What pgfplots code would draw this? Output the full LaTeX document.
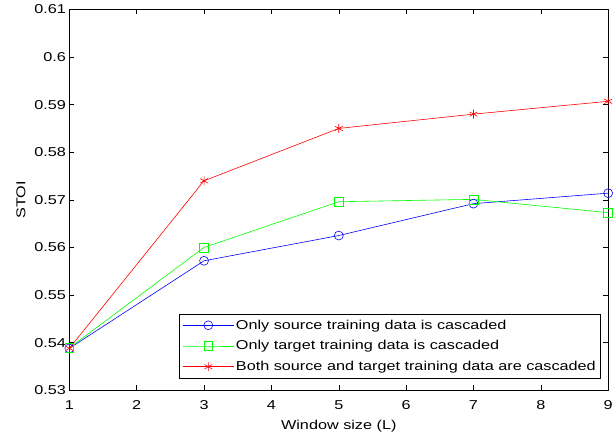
\documentclass[border=0pt]{standalone}
\usepackage{fontspec}
\setmainfont{Liberation Sans}
\usepackage{graphicx}
\usepackage{pgfplots}
\pgfplotsset{compat=1.18}
\newcommand\sx[1]{\scalebox{1.26}[1]{#1}}
\begin{document}
\begin{tikzpicture}
\begin{axis}[
  width=544pt, height=384.5pt, scale only axis,
  xmin=1, xmax=9, ymin=0.53, ymax=0.61,
  xtick={1,2,...,9},
  ytick={0.53,0.54,...,0.61},
  /pgf/number format/assume math mode=true,
  xticklabel={\sx{\pgfmathprintnumber{\tick}}},
  yticklabel={\sx{\pgfmathprintnumber[fixed,precision=2]{\tick}}},
  tick align=inside, tick pos=both,
  major tick length=5pt,
  tick style={black, line width=0.5pt},
  axis line style={black, line width=0.8pt},
  ticklabel style={font=\fontsize{13}{15}\selectfont},
  xticklabel style={yshift=-7pt},
  xlabel={\sx{Window size (L)}}, ylabel={\sx{STOI}},
  label style={font=\fontsize{13}{15}\selectfont},
  xlabel style={yshift=-4pt},
  ylabel style={yshift=2pt},
  legend style={at={(rel axis cs:0.987,0.031)}, anchor=south east,
    font=\fontsize{13}{15}\selectfont, draw=black, line width=0.8pt,
    cells={anchor=west}, row sep=6pt, inner xsep=3pt, inner ysep=4pt},
  legend image code/.code={
    \draw[mark repeat=2,mark phase=2] plot coordinates {(0cm,0cm) (0.9cm,0cm) (1.8cm,0cm)};},
]
\addplot[blue, line width=0.6pt, mark=o, mark size=4.5pt, mark options={line width=0.6pt}]
  coordinates {(1,0.5388) (3,0.5572) (5,0.5625) (7,0.5692) (9,0.5714)};
\addlegendentry{\sx{Only source training data is cascaded}}
\addplot[green, line width=0.6pt, mark=square, mark size=4.5pt, mark options={line width=0.6pt}]
  coordinates {(1,0.5389) (3,0.5600) (5,0.5696) (7,0.5701) (9,0.5673)};
\addlegendentry{\sx{Only target training data is cascaded}}
\addplot[red, line width=0.6pt, mark=asterisk, mark size=4.5pt, mark options={line width=0.6pt}]
  coordinates {(1,0.5388) (3,0.5740) (5,0.5850) (7,0.5880) (9,0.5907)};
\addlegendentry{\sx{Both source and target training data are cascaded}}
\end{axis}
\path (current axis.south west) ++(-70pt,-43pt) rectangle ([shift={(2pt,9.5pt)}]current axis.north east);
\end{tikzpicture}
\end{document}
